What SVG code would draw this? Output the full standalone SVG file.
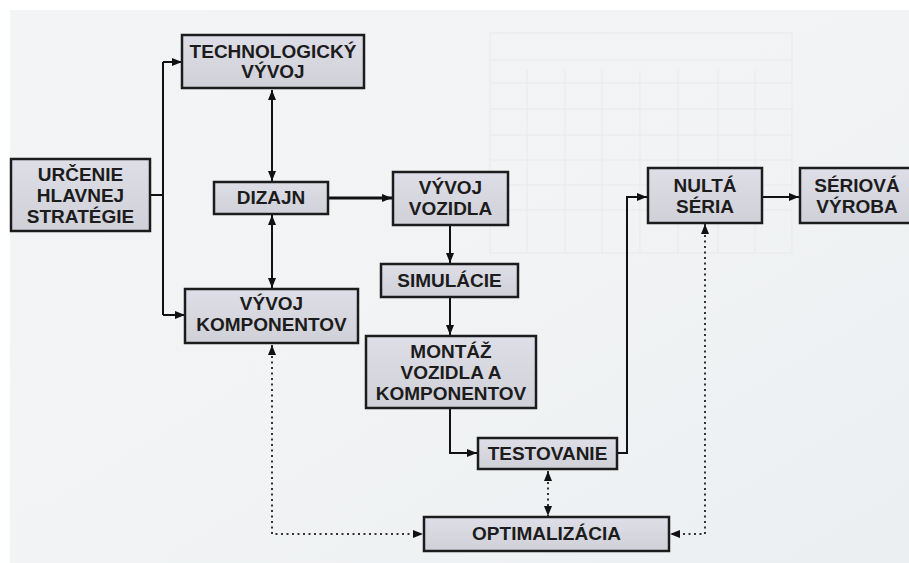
<svg xmlns="http://www.w3.org/2000/svg" width="909" height="563" viewBox="0 0 909 563">
<defs>
<linearGradient id="boxfill" x1="0" y1="0" x2="0" y2="1">
<stop offset="0" stop-color="#dedee8"/>
<stop offset="1" stop-color="#d0d0d8"/>
</linearGradient>
<linearGradient id="bg" x1="0" y1="0" x2="1" y2="1">
<stop offset="0" stop-color="#f3f4f6"/>
<stop offset="0.5" stop-color="#f1f3f4"/>
<stop offset="1" stop-color="#eceff2"/>
</linearGradient>
<marker id="arr" viewBox="0 0 10 8" refX="10" refY="4" markerWidth="10" markerHeight="8" markerUnits="userSpaceOnUse" orient="auto-start-reverse">
<path d="M0,0 L10,4 L0,8 Z" fill="#111"/>
</marker>
</defs>
<style>
.box{fill:url(#boxfill);stroke:#1c1c1c;stroke-width:2.5}
.t{font-family:"Liberation Sans",Arial,sans-serif;font-weight:bold;font-size:19px;fill:#1c1c1c;text-anchor:middle}
.c{fill:none;stroke:#111;stroke-width:2}
.thick{stroke-width:2.8}
.d{fill:none;stroke:#333;stroke-width:2;stroke-dasharray:2 3.5}
.grid{stroke:#e7e9ec;stroke-width:1;fill:none}
</style>
<rect x="0" y="0" width="909" height="563" fill="#ffffff"/>
<rect x="10" y="10" width="899" height="553" fill="url(#bg)"/>
<g id="grid">
<rect class="grid" x="490" y="33" width="302" height="220"/>
<path class="grid" d="M490,60H792M490,83H792M490,109H792M490,135H792M490,160H792M490,185H792M490,210H792M527,70V253M565,70V253M602,70V253M640,70V253M678,70V253M718,70V253M755,70V253"/>
</g>
<g id="connectors">
<path class="c" d="M150,195 H163 M163,62 V315" />
<path class="c" d="M163,62 H182" marker-end="url(#arr)"/>
<path class="c" d="M163,315 H185" marker-end="url(#arr)"/>
<path class="c" d="M272,90 V181" marker-start="url(#arr)" marker-end="url(#arr)"/>
<path class="c" d="M272,215 V288" marker-start="url(#arr)" marker-end="url(#arr)"/>
<path class="c thick" d="M329,198 H392" marker-end="url(#arr)"/>
<path class="c" d="M450,226 V263" marker-end="url(#arr)"/>
<path class="c" d="M450,298 V335" marker-end="url(#arr)"/>
<path class="c" d="M450,409 V453 H477" marker-end="url(#arr)"/>
<path class="c" d="M618,453 H627 V197 H647" marker-end="url(#arr)"/>
<path class="c" d="M763,197 H799" marker-end="url(#arr)"/>
<path class="d" d="M548,471 V516" marker-start="url(#arr)" marker-end="url(#arr)"/>
<path class="d" d="M272,345 V534 H423" marker-start="url(#arr)" marker-end="url(#arr)"/>
<path class="d" d="M705,224 V534 H670" marker-start="url(#arr)" marker-end="url(#arr)"/>
</g>
<g id="n-technologicky">
<rect class="box" x="182" y="35" width="182" height="53"/>
<text class="t" x="273" y="58">TECHNOLOGICKÝ</text>
<text class="t" x="273" y="78">VÝVOJ</text>
</g>
<g id="n-urcenie">
<rect class="box" x="11" y="159" width="139" height="72"/>
<text class="t" x="80.5" y="181">URČENIE</text>
<text class="t" x="80.5" y="202">HLAVNEJ</text>
<text class="t" x="80.5" y="223">STRATÉGIE</text>
</g>
<g id="n-dizajn">
<rect class="box" x="214" y="182" width="114" height="32"/>
<text class="t" x="271" y="204">DIZAJN</text>
</g>
<g id="n-vyvoj-komponentov">
<rect class="box" x="185" y="289" width="173" height="54"/>
<text class="t" x="271.5" y="310">VÝVOJ</text>
<text class="t" x="271.5" y="331">KOMPONENTOV</text>
</g>
<g id="n-vyvoj-vozidla">
<rect class="box" x="393" y="172" width="115" height="53"/>
<text class="t" x="450.5" y="194">VÝVOJ</text>
<text class="t" x="450.5" y="215">VOZIDLA</text>
</g>
<g id="n-simulacie">
<rect class="box" x="381" y="264" width="137" height="33"/>
<text class="t" x="449.5" y="287">SIMULÁCIE</text>
</g>
<g id="n-montaz">
<rect class="box" x="366" y="336" width="170" height="72"/>
<text class="t" x="451" y="358">MONTÁŽ</text>
<text class="t" x="451" y="379">VOZIDLA A</text>
<text class="t" x="451" y="400">KOMPONENTOV</text>
</g>
<g id="n-testovanie">
<rect class="box" x="478" y="438" width="139" height="31"/>
<text class="t" x="547.5" y="460">TESTOVANIE</text>
</g>
<g id="n-optimalizacia">
<rect class="box" x="424" y="517" width="245" height="34"/>
<text class="t" x="546.5" y="540">OPTIMALIZÁCIA</text>
</g>
<g id="n-nulta">
<rect class="box" x="648" y="168" width="114" height="55"/>
<text class="t" x="705" y="192">NULTÁ</text>
<text class="t" x="705" y="213">SÉRIA</text>
</g>
<g id="n-seriova">
<rect class="box" x="800" y="168" width="116" height="55"/>
<text class="t" x="857" y="192">SÉRIOVÁ</text>
<text class="t" x="857" y="213">VÝROBA</text>
</g>
</svg>
